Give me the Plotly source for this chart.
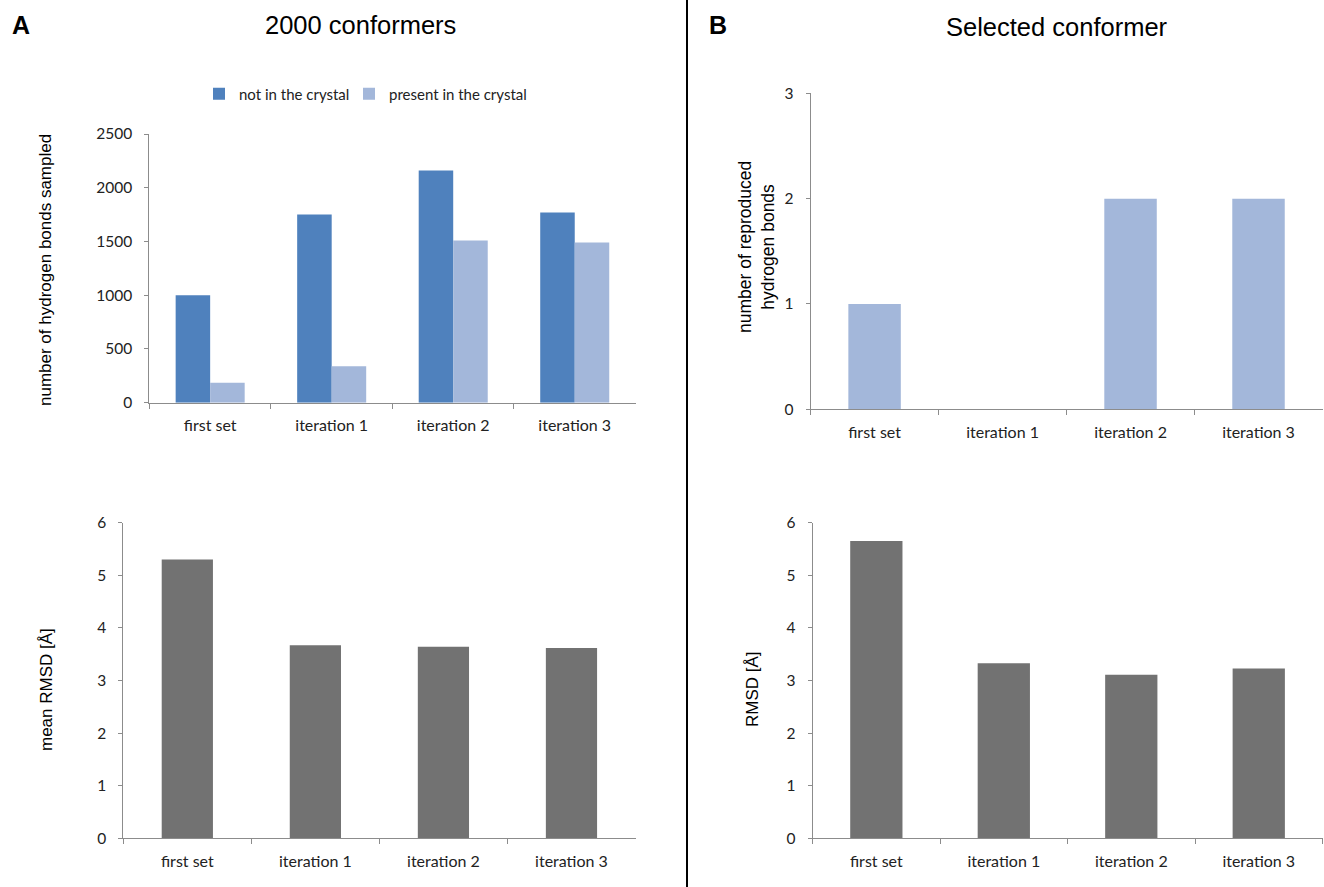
import plotly.graph_objects as go

categories = ["first set", "iteration 1", "iteration 2", "iteration 3"]
hb_not_in_crystal = [1000, 1750, 2160, 1770]
hb_present_in_crystal = [185, 340, 1510, 1490]
mean_rmsd = [5.30, 3.67, 3.64, 3.62]
reproduced_hb = [1, 0, 2, 2]
selected_rmsd = [5.65, 3.33, 3.11, 3.23]

W, H = 1324, 887
DARK = "#4F81BD"
LIGHT = "#A3B7DA"
GRAY = "#727272"
AXIS = "#8C8C8C"
CAL = "Lato, 'Open Sans', sans-serif"
XTICKFONT = dict(family=CAL, size=16, color="#222222")
YTICKFONT = dict(family=CAL, size=15.5, color="#222222")
SANS = "Liberation Sans, Arial, sans-serif"

def px_x(v):
    return v / W

def px_y(v):
    return 1 - v / H

fig = go.Figure()

fig.add_trace(go.Bar(x=categories, y=hb_not_in_crystal, name="not in the crystal",
                     marker=dict(color=DARK, line=dict(width=0)), legend="legend",
                     width=0.284, offset=-0.284, xaxis="x", yaxis="y"))
fig.add_trace(go.Bar(x=categories, y=hb_present_in_crystal, name="present in the crystal",
                     marker=dict(color=LIGHT, line=dict(width=0)), legend="legend2",
                     width=0.284, offset=0.0, xaxis="x", yaxis="y"))
fig.add_trace(go.Bar(x=categories, y=mean_rmsd, showlegend=False,
                     marker=dict(color=GRAY, line=dict(width=0)),
                     width=0.40, xaxis="x2", yaxis="y2"))
fig.add_trace(go.Bar(x=categories, y=reproduced_hb, showlegend=False,
                     marker=dict(color=LIGHT, line=dict(width=0)),
                     width=0.41, xaxis="x3", yaxis="y3"))
fig.add_trace(go.Bar(x=categories, y=selected_rmsd, showlegend=False,
                     marker=dict(color=GRAY, line=dict(width=0)),
                     width=0.41, xaxis="x4", yaxis="y4"))

def xax(domain, anchor):
    return dict(domain=domain, anchor=anchor, type="category", range=[-0.5, 3.5],
                showline=True, linecolor=AXIS, linewidth=1, showgrid=False, zeroline=False,
                ticks="outside", tickson="boundaries", ticklen=5, tickcolor=AXIS,
                tickfont=XTICKFONT, ticklabelstandoff=8, fixedrange=True, automargin=False)

def yax(domain, anchor, rng, dtick):
    return dict(domain=domain, anchor=anchor, range=rng, dtick=dtick, tick0=0,
                showline=True, linecolor=AXIS, linewidth=1, showgrid=False, zeroline=False,
                ticks="outside", ticklen=4, tickcolor=AXIS, tickfont=YTICKFONT,
                ticklabelstandoff=9, fixedrange=True, automargin=False)

LEGFONT = dict(family=CAL, size=15, color="#222222")

fig.update_layout(
    width=W, height=H, autosize=False,
    margin=dict(l=0, r=0, t=0, b=0, pad=0, autoexpand=False),
    paper_bgcolor="white", plot_bgcolor="white",
    barmode="group",
    xaxis=xax([px_x(149.4), px_x(635.5)], "y"),
    yaxis=yax([px_y(402.7), px_y(134)], "x", [0, 2500], 500),
    xaxis2=xax([px_x(123.3), px_x(635.5)], "y2"),
    yaxis2=yax([px_y(838.3), px_y(522.7)], "x2", [0, 6], 1),
    xaxis3=xax([px_x(810.6), px_x(1322.5)], "y3"),
    yaxis3=yax([px_y(409.3), px_y(93.3)], "x3", [0, 3], 1),
    xaxis4=xax([px_x(812.6), px_x(1322.5)], "y4"),
    yaxis4=yax([px_y(838.3), px_y(522.7)], "x4", [0, 6], 1),
    legend=dict(orientation="h", x=px_x(199), xanchor="left", y=px_y(94), yanchor="middle",
                font=LEGFONT, itemwidth=30, bgcolor="rgba(0,0,0,0)"),
    legend2=dict(orientation="h", x=px_x(349), xanchor="left", y=px_y(94), yanchor="middle",
                 font=LEGFONT, itemwidth=30, bgcolor="rgba(0,0,0,0)"),
    showlegend=True,
)

annotations = [
    dict(text="<b>A</b>", x=px_x(21), y=px_y(25), font=dict(family=SANS, size=25, color="black")),
    dict(text="2000 conformers", x=px_x(361), y=px_y(25), font=dict(family=SANS, size=25.5, color="black")),
    dict(text="<b>B</b>", x=px_x(718), y=px_y(25), font=dict(family=SANS, size=25, color="black")),
    dict(text="Selected conformer", x=px_x(1057), y=px_y(27), font=dict(family=SANS, size=25.5, color="black")),
    dict(text="number of hydrogen bonds sampled", x=px_x(46), y=px_y(270), textangle=-90,
         font=dict(family=SANS, size=17, color="black")),
    dict(text="mean RMSD [Å]", x=px_x(46), y=px_y(690), textangle=-90,
         font=dict(family=SANS, size=17, color="black")),
    dict(text="number of reproduced<br>hydrogen bonds", x=px_x(756), y=px_y(247), textangle=-90,
         font=dict(family=SANS, size=17.5, color="black")),
    dict(text="RMSD [Å]", x=px_x(752), y=px_y(689), textangle=-90,
         font=dict(family=SANS, size=17, color="black")),
]
for a in annotations:
    a.update(xref="paper", yref="paper", showarrow=False, xanchor="center", yanchor="middle")
fig.update_layout(annotations=annotations)

fig.add_shape(type="line", xref="paper", yref="paper", x0=px_x(687), x1=px_x(687), y0=0, y1=1,
              line=dict(color="black", width=2))

fig.write_html(
    "out.html",
    post_script="document.body.style.margin='0';document.body.style.padding='0';",
)
